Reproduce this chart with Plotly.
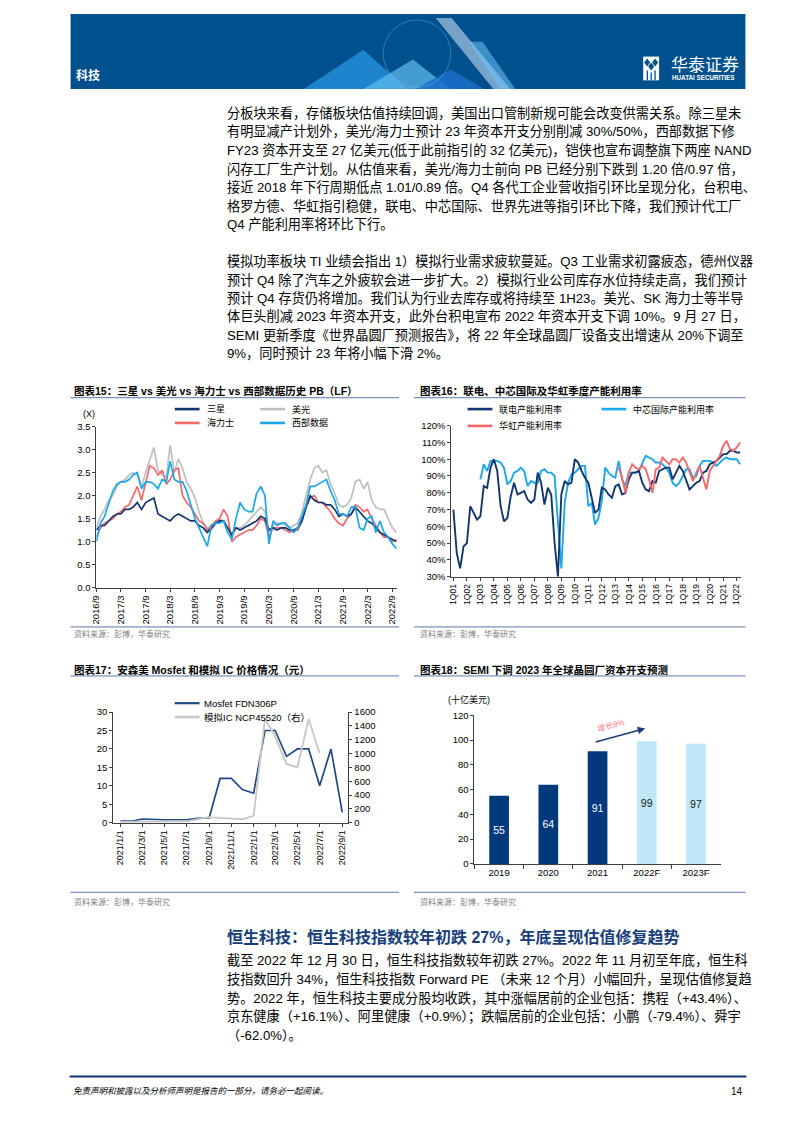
import plotly.graph_objects as go
import pandas as pd

W, H = 794, 1123
def X(p): return p / W
def Y(p): return 1 - p / H

LAT = "Liberation Sans, Noto Sans CJK SC, sans-serif"
AXIS = "#404040"
RULE = "#5A78A8"

# ================= DATA =================
# Chart 15: PB (LF), monthly readings 2016/9 - 2022/10
pb_dates = pd.date_range("2016-09-01", "2022-10-01", freq="MS").strftime("%Y-%m-%d").tolist()
pb_samsung = [1.25, 1.35, 1.35, 1.45,
              1.55, 1.6, 1.6, 1.7, 1.7, 1.75, 1.85, 1.7, 1.85, 1.9, 1.95, 1.6,
              1.55, 1.5, 1.45, 1.55, 1.6, 1.55, 1.5, 1.45, 1.45, 1.35, 1.3, 1.2,
              1.3, 1.4, 1.45, 1.45, 1.3, 1.15, 1.3, 1.25, 1.3, 1.35, 1.4, 1.45,
              1.55, 1.5, 1.25, 1.3, 1.25, 1.3, 1.3, 1.25, 1.25, 1.3, 1.45, 1.75,
              2.0, 1.9, 1.85, 1.85, 1.8, 1.8, 1.7, 1.55, 1.6, 1.55, 1.6, 1.75,
              1.65, 1.55, 1.45, 1.4, 1.3, 1.2, 1.15, 1.1, 1.05, 1.0]
pb_micron = [1.3, 1.55, 1.7, 1.9,
             2.0, 2.2, 2.3, 2.35, 2.45, 2.5, 2.45, 2.2, 2.5, 2.75, 3.05, 2.55,
             2.45, 2.4, 3.1, 2.5, 2.8, 2.6, 2.3, 2.15, 1.95, 1.65, 1.4, 1.3,
             1.25, 1.4, 1.5, 1.45, 1.3, 1.15, 1.3, 1.3, 1.35, 1.45, 1.55, 1.65,
             1.75, 1.65, 1.2, 1.35, 1.4, 1.4, 1.35, 1.3, 1.35, 1.4, 1.65, 2.0,
             2.35, 2.6, 2.65, 2.5, 2.55, 2.25, 2.05, 1.8, 1.75, 1.8, 1.95, 2.3,
             2.35, 2.15, 2.3, 1.9, 1.75, 1.7, 1.7, 1.5, 1.3, 1.2]
pb_hynix = [1.1, 1.3, 1.4, 1.45,
            1.5, 1.6, 1.65, 1.75, 1.8, 2.0, 2.2, 1.9, 2.3, 2.65, 2.6, 2.45,
            2.55, 2.25, 2.35, 2.55, 2.6, 2.0, 1.85, 1.75, 1.6, 1.45, 1.4, 1.25,
            1.35, 1.45, 1.5, 1.7, 1.55, 1.0, 1.1, 1.15, 1.2, 1.25, 1.25, 1.35,
            1.5, 1.45, 1.1, 1.3, 1.3, 1.3, 1.25, 1.2, 1.25, 1.25, 1.45, 1.75,
            1.95, 2.0, 1.85, 1.85, 1.75, 1.65, 1.5, 1.4, 1.35, 1.5, 1.6, 1.8,
            1.75, 1.65, 1.7, 1.5, 1.35, 1.2, 1.1, 1.1, 1.0, 1.05]
pb_wdc = [1.0, 1.4, 1.55, 1.8,
          2.1, 2.25, 2.3, 2.3, 2.35, 2.45, 2.5, 2.15, 2.3, 2.3, 2.25, 2.15,
          2.35, 2.3, 2.75, 2.35, 2.3, 2.3, 2.1, 1.8, 1.5, 1.3, 1.1, 0.9,
          1.35, 1.4, 1.4, 1.45, 1.2, 1.05, 1.5, 1.85, 1.7, 1.65, 1.65, 2.05,
          2.2, 2.0, 0.95, 1.45, 1.35, 1.4, 1.4, 1.3, 1.2, 1.3, 1.55, 1.8,
          2.2, 2.2, 2.25, 2.3, 2.35, 2.1, 1.9, 1.6, 1.6, 1.55, 1.75, 1.75,
          1.3, 1.25, 1.5, 1.55, 1.2, 1.45, 1.2, 1.1, 0.95, 0.85]
pb_tick_dates = ["2016-09-01", "2017-03-01", "2017-09-01", "2018-03-01", "2018-09-01",
                 "2019-03-01", "2019-09-01", "2020-03-01", "2020-09-01", "2021-03-01",
                 "2021-09-01", "2022-03-01", "2022-09-01"]
pb_tick_text = ["2016/9", "2017/3", "2017/9", "2018/3", "2018/9", "2019/3", "2019/9",
                "2020/3", "2020/9", "2021/3", "2021/9", "2022/3", "2022/9"]

# Chart 16: quarterly utilisation (%), 1Q01 - 2Q22
util_quarters = [f"{q}Q{y:02d}" for y in range(1, 23) for q in range(1, 5)][:86]
util_tick_text = util_quarters[::4]
util_umc = [70, 44, 35, 48, 50, 72, 68, 64, 66, 84,
            83, 95, 100, 93, 72, 63, 65, 78, 86, 79,
            80, 81, 76, 74, 76, 92, 86, 73, 83, 79,
            50, 30, 79, 87, 85, 86, 100, 98, 93, 89,
            86, 77, 68, 70, 83, 82, 79, 77, 84, 85,
            79, 80, 88, 92, 92, 93, 86, 82, 81, 87,
            86, 93, 94, 95, 95, 88, 92, 96, 93, 87,
            82, 84, 86, 87, 92, 93, 97, 98, 99, 101,
            103, 103, 105, 105, 104, 104]
util_smic = [None] * 8 + [88, 97, 93, 99, 99, 99, 98, 95, 85, 87, 92, 93, 95, 93, 84, 87, 86, 86, 93, 94, 92, 92, 90,
                          62,
                          35, 74, 86, 91, 92, 94, 96, 96,
                          72, 74, 61, 65, 75,
                          95, 92, 90, 89, 99, 88, 84, 92, 92, 92, 93, 98, 102,
                          101, 100, 98, 98, 97, 95, 92, 86, 84, 86,
                          90, 94, 94, 89, 90, 96, 99, 99, 99, 98,
                          96, 98, 100, 101, 100, 100, 100, 97]
util_huahong = [None] * 49 + [95, 89, 80, 92, 97, 95, 94, 96, 94, 88,
                              80, 94, 95, 101, 99, 97, 100, 100, 98, 101,
                              98, 93, 87, 92, 96, 89, 82, 93, 96, 99,
                              102, 108, 111, 106, 105, 107, 110]

# Chart 17: onsemi prices (yuan), monthly 2021/1 - 2022/9
price_months = pd.date_range("2021-01-01", "2022-09-01", freq="MS")
price_dates = price_months.strftime("%Y-%m-%d").tolist()
price_tick_dates = price_dates[::2]
price_tick_text = [f"{d.year}/{d.month}/1" for d in price_months[::2]]
mosfet_fdn306p = [0.4, 0.4, 1.0, 0.8, 0.8, 0.8, 0.8, 1.2, 1.3, 12, 12, 9, 8, 25, 25, 18, 20, 20, 10, 20, 2.8]
ic_ncp45520 = [10, 10, 20, 20, 20, 20, 20, 50, 80, 70, 60, 50, 100, 1500, 1250, 850, 800, 1500, 1000, None, None]

# Chart 18: global fab capex (USD bn)
capex_years = ["2019", "2020", "2021", "2022F", "2023F"]
capex_values = [55, 64, 91, 99, 97]

# ================= FIGURE =================
fig = go.Figure()

C_NAVY = "#13366F"
C_GRAY = "#BFBFBF"
C_RED = "#F26A6C"
C_BLUE = "#1AA7EC"

# chart 15
fig.add_trace(go.Scatter(x=pb_dates, y=pb_micron, mode="lines", line=dict(color=C_GRAY, width=1.7), xaxis="x", yaxis="y"))
fig.add_trace(go.Scatter(x=pb_dates, y=pb_hynix, mode="lines", line=dict(color=C_RED, width=1.7), xaxis="x", yaxis="y"))
fig.add_trace(go.Scatter(x=pb_dates, y=pb_samsung, mode="lines", line=dict(color=C_NAVY, width=1.7), xaxis="x", yaxis="y"))
fig.add_trace(go.Scatter(x=pb_dates, y=pb_wdc, mode="lines", line=dict(color=C_BLUE, width=1.7), xaxis="x", yaxis="y"))

# chart 16
fig.add_trace(go.Scatter(x=util_quarters, y=util_smic, mode="lines", line=dict(color=C_BLUE, width=1.9), xaxis="x2", yaxis="y2"))
fig.add_trace(go.Scatter(x=util_quarters, y=util_umc, mode="lines", line=dict(color=C_NAVY, width=1.9), xaxis="x2", yaxis="y2"))
fig.add_trace(go.Scatter(x=util_quarters, y=util_huahong, mode="lines", line=dict(color=C_RED, width=1.9), xaxis="x2", yaxis="y2"))

# chart 17
fig.add_trace(go.Scatter(x=price_dates, y=ic_ncp45520, mode="lines", line=dict(color="#C8C8C8", width=1.9), xaxis="x3", yaxis="y4"))
fig.add_trace(go.Scatter(x=price_dates, y=mosfet_fdn306p, mode="lines", line=dict(color="#1F4A86", width=1.7), xaxis="x3", yaxis="y3"))

# chart 18
bar_colors = ["#003A7D", "#003A7D", "#003A7D", "#BFE7F8", "#BFE7F8"]
txt_colors = ["#FFFFFF", "#FFFFFF", "#FFFFFF", "#1A1A1A", "#1A1A1A"]
fig.add_trace(go.Bar(x=capex_years, y=capex_values, marker=dict(color=bar_colors, line=dict(width=0)),
                     text=capex_values, texttemplate="%{y}", textposition="inside", insidetextanchor="middle",
                     textangle=0, textfont=dict(family=LAT, size=10.5, color=txt_colors),
                     xaxis="x4", yaxis="y5"))

tickf = dict(family=LAT, size=9, color="#000000")
base_ax = dict(showgrid=False, zeroline=False, showline=True, linecolor=AXIS, linewidth=1,
               ticks="outside", ticklen=3, tickcolor=AXIS, tickfont=tickf)

fig.update_layout(
    width=W, height=H, margin=dict(l=0, r=0, t=0, b=0),
    paper_bgcolor="white", plot_bgcolor="white", showlegend=False, bargap=0.6,
    xaxis=dict(base_ax, domain=[X(83), X(386)], anchor="y", type="date",
               range=["2016-09-01", "2022-10-06"], tickvals=pb_tick_dates, ticktext=pb_tick_text,
               tickangle=-90, tickfont=dict(tickf, size=9.5)),
    yaxis=dict(base_ax, domain=[Y(579.3), Y(416.7)], anchor="x", range=[0, 3.5], dtick=0.5, tickformat=".1f",
               tickfont=dict(tickf, size=9.5)),
    xaxis2=dict(base_ax, domain=[X(440.7), X(733)], anchor="y2", type="category",
                range=[-0.6, 85.4], tickvals=util_tick_text, ticktext=util_tick_text,
                tickangle=-90, tickfont=dict(tickf, size=8.5)),
    yaxis2=dict(base_ax, domain=[Y(568.3), Y(415.7)], anchor="x2", range=[30, 120], dtick=10, ticksuffix="%",
                tickfont=dict(tickf, size=9.5)),
    xaxis3=dict(base_ax, domain=[X(100), X(337)], anchor="y3", type="date",
                range=["2020-12-12", "2022-09-18"], tickvals=price_tick_dates, ticktext=price_tick_text,
                tickangle=-90),
    yaxis3=dict(base_ax, domain=[Y(816.7), Y(705)], anchor="x3", range=[0, 30], dtick=5,
                tickfont=dict(tickf, size=9.5)),
    yaxis4=dict(base_ax, overlaying="y3", side="right", anchor="x3", range=[0, 1600], dtick=200,
                tickfont=dict(tickf, size=9.5)),
    xaxis4=dict(base_ax, domain=[X(464), X(712)], anchor="y5", type="category", tickson="boundaries",
                ticklen=4, tickfont=dict(tickf, size=9.5)),
    yaxis5=dict(base_ax, domain=[Y(858.3), Y(708.3)], anchor="x4", range=[0, 120], dtick=20,
                tickfont=dict(tickf, size=9.5)),
)

shapes = []
ann = []

def hline(x0, x1, y, color=RULE, width=1):
    shapes.append(dict(type="line", xref="paper", yref="paper", x0=X(x0), x1=X(x1), y0=Y(y), y1=Y(y),
                       line=dict(color=color, width=width)))

def rect(x0, y0, x1, y1, fill):
    shapes.append(dict(type="rect", xref="paper", yref="paper", x0=X(x0), x1=X(x1), y0=Y(y1), y1=Y(y0),
                       fillcolor=fill, line=dict(width=0), layer="above"))

def poly(pts, fill):
    d = "M " + " L ".join(f"{X(a):.5f},{Y(b):.5f}" for a, b in pts) + " Z"
    shapes.append(dict(type="path", xref="paper", yref="paper", path=d, fillcolor=fill, line=dict(width=0)))

def text(x, y, s, size=12, color="#000000", anchor="left", bold=False, family=LAT, angle=0):
    ann.append(dict(xref="paper", yref="paper", x=X(x), y=Y(y), text=(f"<b>{s}</b>" if bold else s),
                    showarrow=False, xanchor=anchor, yanchor="middle", textangle=angle,
                    font=dict(family=family, size=size, color=color)))

# ---- header banner ----
rect(57, 0, 737, 75.7, "#00508E")
poly([(292, 75.7), (352, 36), (396, 75.7)], "rgba(40,150,225,0.75)")
poly([(352, 75.7), (402, 46), (440, 75.7)], "rgba(95,190,240,0.70)")
poly([(405, 75.7), (440, 56), (474, 75.7)], "rgba(25,110,200,0.85)")
poly([(425, 4), (441, 4), (500, 75.7), (483, 75.7)], "rgba(215,232,250,0.55)")
poly([(458, 28), (472, 28), (505, 75.7), (490, 75.7)], "rgba(110,195,245,0.55)")
shapes.append(dict(type="circle", xref="paper", yref="paper", x0=X(372), x1=X(440), y0=Y(74), y1=Y(6),
                   line=dict(color="rgba(140,200,245,0.35)", width=1)))
text(60, 62, "科技", size=12, color="#FFFFFF", bold=True)
# logo
rect(634, 43, 650, 67, "#FFFFFF")
poly([(638, 45), (641, 49), (638, 53), (635, 49)], "#00508E")
poly([(646, 45), (649, 49), (646, 53), (643, 49)], "#00508E")
poly([(642, 49), (645, 53), (642, 57), (639, 53)], "#00508E")
rect(637.5, 57, 638.8, 67, "#00508E")
rect(641.4, 59, 642.7, 67, "#00508E")
rect(645.3, 57, 646.6, 67, "#00508E")
text(660, 52, "华泰证券", size=17, color="#FFFFFF")
text(661, 64.5, "<b>HUATAI SECURITIES</b>", size=6.3, color="#FFFFFF")

# ---- upper paragraphs ----
para_a = [
    "分板块来看，存储板块估值持续回调，美国出口管制新规可能会改变供需关系。除三星未",
    "有明显减产计划外，美光/海力士预计 23 年资本开支分别削减 30%/50%，西部数据下修",
    "FY23 资本开支至 27 亿美元(低于此前指引的 32 亿美元)，铠侠也宣布调整旗下两座 NAND",
    "闪存工厂生产计划。从估值来看，美光/海力士前向 PB 已经分别下跌到 1.20 倍/0.97 倍，",
    "接近 2018 年下行周期低点 1.01/0.89 倍。Q4 各代工企业营收指引环比呈现分化，台积电、",
    "格罗方德、华虹指引稳健，联电、中芯国际、世界先进等指引环比下降，我们预计代工厂",
    "Q4 产能利用率将环比下行。",
]
para_b = [
    "模拟功率板块 TI 业绩会指出 1）模拟行业需求疲软蔓延。Q3 工业需求初露疲态，德州仪器",
    "预计 Q4 除了汽车之外疲软会进一步扩大。2）模拟行业公司库存水位持续走高，我们预计",
    "预计 Q4 存货仍将增加。我们认为行业去库存或将持续至 1H23。美光、SK 海力士等半导",
    "体巨头削减 2023 年资本开支，此外台积电宣布 2022 年资本开支下调 10%。9 月 27 日，",
    "SEMI 更新季度《世界晶圆厂预测报告》，将 22 年全球晶圆厂设备支出增速从 20%下调至",
    "9%，同时预计 23 年将小幅下滑 2%。",
]
for k, s in enumerate(para_a):
    text(213, 100 + 18.7 * k, s, size=13.2)
for k, s in enumerate(para_b):
    text(213, 249.6 + 18.7 * k, s, size=13.2)

# ---- chart titles / rules / sources ----
text(58, 381, "图表15：三星 vs 美光 vs 海力士 vs 西部数据历史 PB（LF）", size=10.5, bold=True)
text(407, 381, "图表16：联电、中芯国际及华虹季度产能利用率", size=10.5, bold=True)
text(58, 662, "图表17：安森美 Mosfet 和模拟 IC 价格情况（元）", size=10.5, bold=True)
text(407, 662, "图表18：SEMI 下调 2023 年全球晶圆厂资本开支预测", size=10.5, bold=True)
hline(57, 388, 387.5); hline(403, 737, 387.5)
hline(57, 388, 668.5); hline(403, 737, 668.5)
hline(57, 388, 619); hline(403, 737, 619)
hline(57, 388, 887); hline(403, 737, 887)
for sx, sy in [(58, 626), (407, 626), (58, 897), (407, 897)]:
    text(sx, sy, "资料来源：彭博，华泰研究", size=8, color="#808080")

# ---- legends ----
def leg(x0, y, color, label, w=2.6, size=9):
    hline(x0, x0 + 25, y, color=color, width=w)
    text(x0 + 30, y, label, size=size)

leg(162, 399, C_NAVY, "三星"); leg(248, 399, C_GRAY, "美光")
leg(162, 413, C_RED, "海力士"); leg(248, 413, C_BLUE, "西部数据")
text(76, 404, "(X)", size=9, anchor="center")

leg(457, 399, C_NAVY, "联电产能利用率"); leg(592, 399, C_BLUE, "中芯国际产能利用率")
leg(457, 416, C_RED, "华虹产能利用率")

hline(162, 187, 696, color="#1F4A86", width=2.2); text(189, 696, "Mosfet FDN306P", size=9.5)
hline(162, 187, 710, color="#C8C8C8", width=2.6); text(189, 710, "模拟IC NCP45520（右）", size=9.5)

# ---- chart 18 extras ----
text(458, 692, "(十亿美元)", size=9, anchor="center")
ann.append(dict(xref="paper", yref="paper", x=X(636), y=Y(721.5), ax=-51, ay=14, text="",
                showarrow=True, arrowhead=2, arrowsize=1, arrowwidth=1.5, arrowcolor="#1F3C78", standoff=0))
text(602, 718, "增长9%", size=8, color="#F07C7C", anchor="center", angle=-15)

# ---- lower section ----
text(213, 932, "恒生科技：恒生科技指数较年初跌 27%，年底呈现估值修复趋势", size=16, color="#173D7A", bold=True)
para_c = [
    "截至 2022 年 12 月 30 日，恒生科技指数较年初跌 27%。2022 年 11 月初至年底，恒生科",
    "技指数回升 34%，恒生科技指数 Forward PE （未来 12 个月）小幅回升，呈现估值修复趋",
    "势。2022 年，恒生科技主要成分股均收跌，其中涨幅居前的企业包括：携程（+43.4%）、",
    "京东健康（+16.1%）、阿里健康（+0.9%）；跌幅居前的企业包括：小鹏（-79.4%）、舜宇",
    "（-62.0%）。",
]
for k, s in enumerate(para_c):
    text(213, 956 + 18.8 * k, s, size=13.2)

# ---- footer ----
hline(56, 738, 1073, color="#0F3470", width=2.2)
text(57, 1088, "<i>免责声明和披露以及分析师声明是报告的一部分，请务必一起阅读。</i>", size=8.5)
text(737, 1088, "14", size=10, anchor="right")

fig.update_layout(shapes=shapes, annotations=ann)
fig.write_html("out.html")
